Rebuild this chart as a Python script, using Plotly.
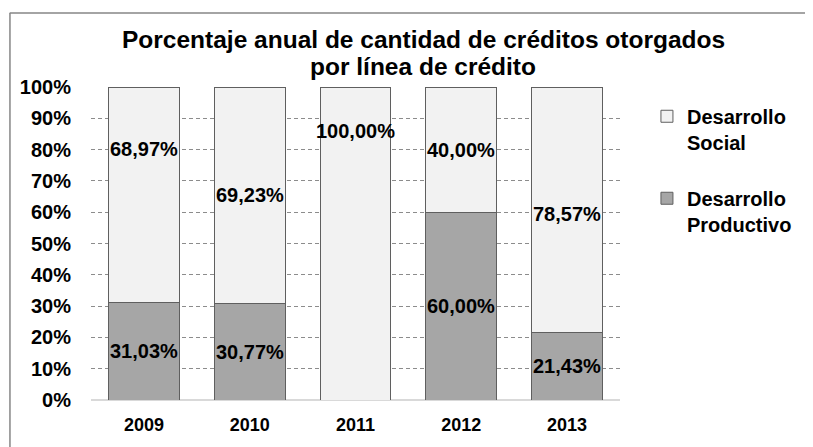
import plotly.graph_objects as go

years = ["2009", "2010", "2011", "2012", "2013"]
productivo = [31.03, 30.77, 0.0, 60.00, 21.43]
social = [68.97, 69.23, 100.00, 40.00, 78.57]
y_ticks = [0, 10, 20, 30, 40, 50, 60, 70, 80, 90, 100]
title_lines = ["Porcentaje anual de cantidad de créditos otorgados", "por línea de crédito"]

# page body adds an 8px offset, so figure is 8px smaller
W, H = 805, 439
L, R, T, B = 82, 193, 79, 39
pw, ph = W - L - R, H - T - B

def px_x(ref_px):  # reference pixel -> paper x
    return (ref_px - 8 - L) / pw

def px_y(ref_py):  # reference pixel -> paper y
    return (H - B - (ref_py - 8)) / ph

FONT = "Liberation Sans, Arial, sans-serif"
fmt = lambda v: f"{v:.2f}".replace(".", ",") + "%"

fig = go.Figure()
fig.add_bar(x=years, y=productivo, name="Desarrollo<br>Productivo", legendgroup="p",
            legendrank=2,
            marker=dict(color="#a6a6a6", line=dict(color="#5f5f5f", width=1)),
            hoverinfo="skip")
fig.add_bar(x=years, y=social, name="Desarrollo<br>Social", legendgroup="s",
            legendrank=1,
            marker=dict(color="#f2f2f2", line=dict(color="#5f5f5f", width=1)),
            hoverinfo="skip")

# label nudges (pixels) for labels that were moved in the original
nudge_social = [46, 0, 113, 0, -4]
nudge_prod = [0, 0, 0, 0, 0]

LBL = dict(family=FONT, size=20, color="#000000")
for i, yr in enumerate(years):
    p, s = productivo[i], social[i]
    if p > 0:
        fig.add_annotation(x=i, y=p / 2, text=f"<b>{fmt(p)}</b>", showarrow=False,
                           yshift=nudge_prod[i], font=LBL)
    if s > 0:
        fig.add_annotation(x=i, y=p + s / 2, text=f"<b>{fmt(s)}</b>", showarrow=False,
                           yshift=nudge_social[i], font=LBL)

# title (two lines, tight spacing)
for line, ypx in zip(title_lines, [38, 66]):
    fig.add_annotation(xref="paper", yref="paper", x=px_x(423), y=px_y(ypx),
                       xanchor="center", yanchor="middle", showarrow=False,
                       text=f"<b>{line}</b>",
                       font=dict(family=FONT, size=24.5, color="#000000"))

# outer frame (top and left edges)
fig.add_shape(type="line", xref="paper", yref="paper",
              x0=px_x(8.5), x1=px_x(820), y0=px_y(11), y1=px_y(11),
              line=dict(color="#868686", width=1.5))
fig.add_shape(type="line", xref="paper", yref="paper",
              x0=px_x(8.8), x1=px_x(8.8), y0=px_y(11), y1=px_y(460),
              line=dict(color="#868686", width=1.5))

fig.update_layout(
    width=W, height=H,
    margin=dict(l=L, r=R, t=T, b=B, pad=0),
    barmode="stack", bargap=0.33,
    plot_bgcolor="white", paper_bgcolor="white",
    font=dict(family=FONT, color="#000000"),
    showlegend=True,
    legend=dict(x=px_x(647), xanchor="left", y=px_y(97), yanchor="top",
                traceorder="grouped", valign="top", tracegroupgap=27,
                font=dict(family=FONT, size=20, color="#000000", weight="bold"),
                bgcolor="rgba(0,0,0,0)"),
    xaxis=dict(type="category", range=[-0.5, len(years) - 0.5], autorange=False,
               showgrid=False, showline=False, ticks="", zeroline=False,
               tickfont=dict(family=FONT, size=18, color="#000000", weight="bold"),
               ticklabelstandoff=12),
    yaxis=dict(range=[0, 100], autorange=False, tickvals=y_ticks,
               ticktext=[f"{v}%" for v in y_ticks],
               showgrid=True, gridcolor="#8c8c8c", griddash="4px,3px", gridwidth=1,
               zeroline=True, zerolinecolor="#d9d9d9", zerolinewidth=2,
               showline=False, ticks="",
               tickfont=dict(family=FONT, size=20, color="#000000", weight="bold"),
               ticklabelstandoff=19),
)

fig.write_html("out.html")
